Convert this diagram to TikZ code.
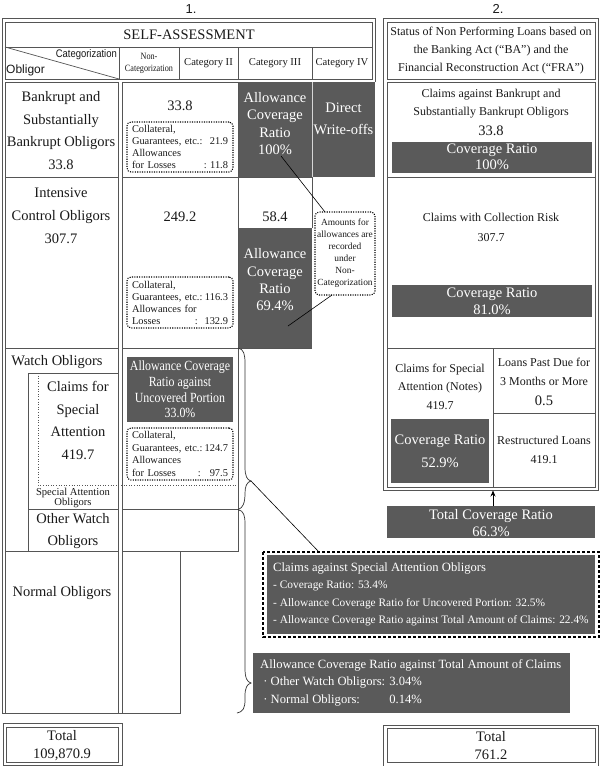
\documentclass[tikz,border=0pt]{standalone}
\usepackage{fontspec}
\setmainfont{Liberation Serif}
\setsansfont{Liberation Sans}
\newfontfamily\condsans[FakeStretch=0.86]{Liberation Sans}
\newfontfamily\condserif[FakeStretch=0.85]{Liberation Serif}
\usetikzlibrary{arrows.meta}
\definecolor{darkc}{HTML}{5A5A5A}
\definecolor{framec}{HTML}{555555}
\definecolor{txtc}{HTML}{1A1A1A}
\newcommand{\fsz}[2]{\fontsize{#1}{#2}\selectfont}
\tikzset{
  fr/.style={draw=framec, line width=0.9pt},
  txt/.style={inner sep=0pt, align=center, text=txtc},
  wtxt/.style={inner sep=0pt, align=center, text=white},
  dotbox/.style={draw=black, line width=1.1pt, dash pattern=on 1.1pt off 1.3pt, rounded corners=4pt, inner sep=0pt, text=txtc},
  callout/.style={draw=black, line width=0.6pt},
  bracestyle/.style={draw=black!80, line width=0.7pt},
  spdot/.style={draw=framec, line width=0.8pt, dash pattern=on 1pt off 1.6pt},
}
\begin{document}
\begin{tikzpicture}[x=1pt,y=-1pt]
\useasboundingbox (0,0) rectangle (600,766);
\fill[white] (0,0) rectangle (600,766);

% ---------------- LEFT PANEL ----------------
% dark fills
\fill[darkc] (238,82) rectangle (375,177);
\fill[darkc] (238,228) rectangle (312,348);
\fill[darkc] (127,357) rectangle (233,422);

% frames
\draw[fr] (2,713) -- (2,18) -- (375,18) -- (375,82);
\draw[fr] (5,22) rectangle (372,79);
\draw[fr] (5,47) -- (372,47);
\foreach \x in {119,179,238,312} \draw[fr] (\x,47) -- (\x,79);
\draw[draw=framec, line width=0.7pt] (5,47) -- (119,79);
\draw[fr] (5,82) rectangle (118,713);
\draw[fr] (5,177) -- (118,177);
\draw[fr] (5,348) -- (118,348);
\draw[fr] (5,551) -- (118,551);
\draw[fr] (2,713) -- (180,713);
\draw[fr] (122,82) rectangle (238,177);
\draw[fr] (122,177) -- (312,177);
\draw[fr] (122,177) -- (122,713);
\draw[fr] (238,177) -- (238,348);
\draw[fr] (312,177) -- (312,228);
\draw[fr] (122,348) -- (312,348);
\draw[fr] (122,348) rectangle (238,551);
\draw[fr] (122,509) -- (238,509);
\draw[fr] (122,551) rectangle (180,713);
\draw[fr] (28,373) rectangle (118,551);
\draw[fr] (28,509) -- (118,509);
\draw[spdot] (38,373) -- (38,485) -- (238,485);
\draw[white!75!darkc, line width=0.7pt] (312,82) -- (312,177);

% header texts
\node[txt, font=\sffamily\fsz{13}{15}] (one) at (191,9) {1.};
\node[txt, font=\fsz{14.5}{17}] (sa) at (189,35) {SELF-ASSESSMENT};
\node[txt, anchor=east, font=\condsans\fsz{11}{13}] (catz) at (117,55) {Categorization};
\node[txt, anchor=west, font=\sffamily\fsz{12}{14}] (oblig) at (6,70) {Obligor};
\node[txt, font=\condserif\fsz{9.6}{12}] (noncat) at (149,63.5) {Non-\\Categorization};
\node[txt, font=\fsz{10.6}{13}] (c2) at (208.5,63) {Category II};
\node[txt, font=\fsz{10.6}{13}] (c3) at (275,63) {Category III};
\node[txt, font=\fsz{10.6}{13}] (c4) at (342,63) {Category IV};

% row 1
\node[txt, font=\fsz{14.5}{22.4}] (bk) at (61,130.5) {Bankrupt and\\Substantially\\Bankrupt Obligors\\33.8};
\node[txt, font=\fsz{14.5}{17}] (bkv) at (180,106) {33.8};
\node[dotbox, minimum width=106pt, minimum height=50pt, text width=96pt, align=left, font=\fsz{10.4}{12}] (bkbox) at (180,147)
  {Collateral,\\Guarantees, etc.:\hfill 21.9\\Allowances\\for Losses\hfill:\ 11.8};
\node[wtxt, font=\fsz{14.5}{17.6}] (acr1) at (275,123.5) {Allowance\\Coverage\\Ratio\\100\%};
\node[wtxt, font=\fsz{14.5}{22}] (dwo) at (343.5,119) {Direct\\Write-offs};

% row 2
\node[txt, font=\fsz{14.5}{23}] (ic) at (61,216) {Intensive\\Control Obligors\\307.7};
\node[txt, font=\fsz{14.5}{17}] (icv) at (180,217) {249.2};
\node[txt, font=\fsz{14.5}{17}] (icv3) at (275,217) {58.4};
\node[dotbox, minimum width=106pt, minimum height=51pt, text width=96pt, align=left, font=\fsz{10.4}{12}] (icbox) at (180,302.5)
  {Collateral,\\Guarantees, etc.:\hfill 116.3\\Allowances for\\Losses\hfill:\ \ 132.9};
\node[wtxt, font=\fsz{14.5}{17.3}] (acr2) at (275,280) {Allowance\\Coverage\\Ratio\\69.4\%};
\node[dotbox, minimum width=60pt, minimum height=83pt, align=center, font=\fsz{9.4}{12}] (amt) at (345,253.5)
  {Amounts for\\allowances are\\recorded\\under\\Non-\\Categorization};

% callout lines
\coordinate (p1) at (281,156);
\coordinate (p2) at (325,212);
\coordinate (p3) at (332,295);
\coordinate (p4) at (288,326);
\draw[callout] (p1) -- (p2);
\draw[callout] (p3) -- (p4);

% watch
\node[txt, font=\fsz{14.5}{17}] (wo) at (57,362) {Watch Obligors};
\node[txt, font=\fsz{14.5}{22.4}] (csa) at (78,420.5) {Claims for\\Special\\Attention\\419.7};
\node[txt, font=\fsz{10.6}{10.5}] (sao) at (73,498) {Special Attention\\Obligors};
\node[txt, font=\fsz{14.5}{22}] (owo) at (73,531) {Other Watch\\Obligors};
\node[wtxt, font=\condserif\fsz{14}{15.6}] (acr3) at (180,389.5) {Allowance Coverage\\Ratio against\\Uncovered Portion\\33.0\%};
\node[dotbox, minimum width=106pt, minimum height=52pt, text width=96pt, align=left, font=\fsz{10.4}{12.6}] (wbox) at (180,454)
  {Collateral,\\Guarantees, etc.:\hfill 124.7\\Allowances\\for Losses\hfill:\hspace{9pt}97.5};

% normal
\node[txt, font=\fsz{14.5}{17}] (no) at (62,593) {Normal Obligors};

% left total
\draw[fr] (3,723) rectangle (122,765);
\draw[fr] (6,727) rectangle (118,762);
\node[txt, font=\fsz{14.5}{18}] (ltot) at (62,746) {Total\\109,870.9};

% braces
\draw[bracestyle] (238,348) .. controls (244,349) and (245,355) .. (245,363) -- (245,467)
  .. controls (245,476) and (247,480) .. (251,481)
  .. controls (247,482) and (245,486) .. (245,493)
  .. controls (245,503) and (243,508) .. (238,509.5);
\draw[bracestyle] (238,509.5) .. controls (244,511) and (245,516) .. (245,524) -- (245,668)
  .. controls (245,678) and (247,682) .. (251,683)
  .. controls (247,684) and (245,688) .. (245,696) -- (245,700)
  .. controls (245,708) and (243,712) .. (237,713);
\coordinate (btip) at (251,481);
\coordinate (dtop) at (319,552);
\draw[callout] (btip) -- (dtop);

% ---------------- RIGHT PANEL ----------------
\fill[darkc] (392,142) rectangle (592,173);
\fill[darkc] (392,285) rectangle (592,317);
\fill[darkc] (391,419) rectangle (489,483);
\fill[darkc] (387,506) rectangle (595,538);

\draw[fr] (383,18) rectangle (598,490);
\draw[fr] (387,22) rectangle (595,79);
\draw[fr] (387,82) rectangle (595,487);
\draw[fr] (387,177) -- (595,177);
\draw[fr] (387,348) -- (595,348);
\draw[fr] (493,348) -- (493,487);
\draw[fr] (493,413) -- (595,413);

\node[txt, font=\sffamily\fsz{13}{15}] (two) at (498,9) {2.};
\node[txt, font=\fsz{12}{18}] (title) at (491,51) {Status of Non Performing Loans based on\\the Banking Act (“BA”) and the\\Financial Reconstruction Act (“FRA”)};
\node[txt, font=\fsz{12}{18}] (cab) at (491,104) {Claims against Bankrupt and\\Substantially Bankrupt Obligors};
\node[txt, font=\fsz{14.5}{17}] (cabv) at (491,131) {33.8};
\node[wtxt, font=\fsz{14.5}{16}] (cr1) at (492,157) {Coverage Ratio\\100\%};
\node[txt, font=\fsz{12}{20}] (ccr) at (491,227) {Claims with Collection Risk\\307.7};
\node[wtxt, font=\fsz{14.5}{17}] (cr2) at (492,301.5) {Coverage Ratio\\81.0\%};
\node[txt, font=\fsz{12}{18.5}] (csn) at (440,386.5) {Claims for Special\\Attention (Notes)\\419.7};
\node[wtxt, font=\fsz{14.5}{23}] (cr3) at (440,451.5) {Coverage Ratio\\52.9\%};
\node[txt, font=\fsz{12}{19}] (lpd) at (544,371.5) {Loans Past Due for\\3 Months or More};
\node[txt, font=\fsz{14.5}{17}] (lpdv) at (544,401) {0.5};
\node[txt, font=\fsz{12}{19}] (rl) at (544,449.5) {Restructured Loans\\419.1};
\node[wtxt, font=\fsz{14.5}{17}] (tcr) at (491,523.5) {Total Coverage Ratio\\66.3\%};
\coordinate (arrS) at (493,506);
\coordinate (arrE) at (493,490.5);
\draw[black, line width=0.8pt, -{Stealth[length=6pt,width=5pt]}] (arrS) -- (arrE);

% dashed callout
\draw[black, line width=1.2pt, dash pattern=on 3pt off 2pt] (263,552) rectangle (599,637);
\fill[darkc] (267,555) rectangle (595,634);
\node[wtxt, anchor=west, align=left, font=\fsz{11.4}{17.4}] (sac) at (273,594.5)
  {{\fsz{12.6}{17.4}Claims against Special Attention Obligors}\\- Coverage Ratio: 53.4\%\\- Allowance Coverage Ratio for Uncovered Portion: 32.5\%\\- Allowance Coverage Ratio against Total Amount of Claims: 22.4\%};

% second dark box
\fill[darkc] (253,653) rectangle (570,713);
\node[wtxt, anchor=west, align=left, font=\fsz{12.6}{17.5}] (acrt) at (260,682.5)
  {Allowance Coverage Ratio against Total Amount of Claims\\\ ·\ Other Watch Obligors: 3.04\%\\\ ·\ \rlap{Normal Obligors:}\phantom{Other Watch Obligors: }0.14\%};

% right total
\draw[fr] (383,725) rectangle (598,766);
\draw[fr] (387,728.5) rectangle (595,762.5);
\node[txt, font=\fsz{14.5}{18}] (rtot) at (491,746) {Total\\761.2};
\end{tikzpicture}
\end{document}
